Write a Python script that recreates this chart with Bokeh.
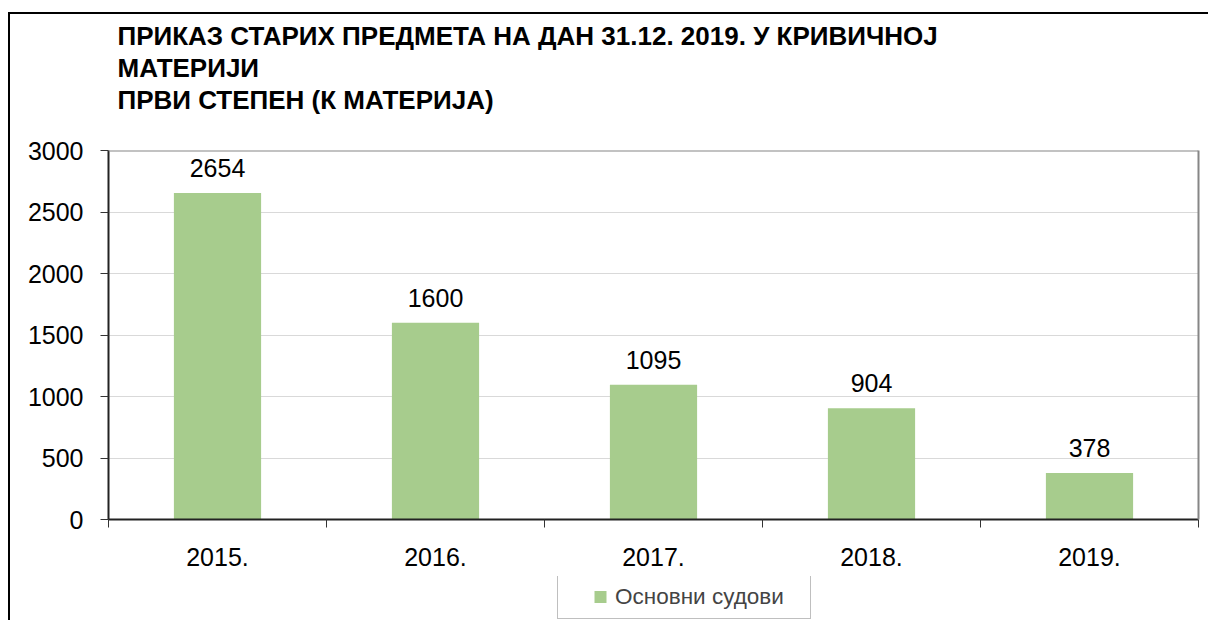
from bokeh.plotting import figure
from bokeh.models import (ColumnDataSource, FixedTicker, Range1d, LabelSet, Legend,
                          LegendItem, Title, Span, LinearAxis)
from bokeh.layouts import column
from bokeh.core.properties import value
from bokeh.embed import file_html
from bokeh.resources import INLINE

years = ["2015.", "2016.", "2017.", "2018.", "2019."]
values = [2654, 1600, 1095, 904, 378]
series_name = "Основни судови"
title_lines = ["ПРИКАЗ СТАРИХ ПРЕДМЕТА НА ДАН 31.12. 2019. У КРИВИЧНОЈ",
               "МАТЕРИЈИ",
               "ПРВИ СТЕПЕН (К МАТЕРИЈА)"]
y_ticks = [0, 500, 1000, 1500, 2000, 2500, 3000]
y_max = 3000

FONT = "Liberation Sans"
BAR = "#A7CC8D"
FRAME_GRAY = "#868686"

n = len(years)
centers = [i + 0.5 for i in range(n)]
bounds = [float(i) for i in range(n + 1)]

src = ColumnDataSource(dict(x=centers, top=values, label=[str(v) for v in values]))

p = figure(width=1198, height=562, output_backend="svg", toolbar_location=None,
           x_range=Range1d(0, n), y_range=Range1d(0, y_max),
           min_border_left=98, min_border_right=10, min_border_top=136,
           min_border_bottom=57)
p.outline_line_color = None

# gridlines
p.xgrid.grid_line_color = None
p.ygrid.grid_line_color = "#d9d9d9"
p.ygrid.grid_line_width = 1

bars = p.vbar(x="x", top="top", width=0.4, source=src, fill_color=BAR, line_color=None)

labels = LabelSet(x="x", y="top", text="label", source=src, text_align="center",
                  text_baseline="alphabetic", y_offset=16, text_font_size=value("25px"),
                  text_font=value(FONT), text_color="black")
p.add_layout(labels)

# gray frame: top edge at the axis maximum, right edge as a bare right axis
p.add_layout(Span(location=y_max, dimension="width", line_color=FRAME_GRAY, line_width=2))
ra = LinearAxis(axis_line_color=FRAME_GRAY, axis_line_width=2,
                major_tick_line_color=None, minor_tick_line_color=None,
                major_label_text_color=None, major_label_text_font_size="1px",
                major_label_standoff=0, major_tick_out=0, major_tick_in=0)
p.add_layout(ra, "right")

# axes
xa = p.xaxis[0]
xa.ticker = FixedTicker(ticks=centers, minor_ticks=bounds)
xa.major_label_overrides = {c: y for c, y in zip(centers, years)}
xa.major_tick_line_color = None
xa.major_tick_in = 0
xa.major_tick_out = 0
xa.minor_tick_in = 0
xa.minor_tick_out = 8
xa.minor_tick_line_color = "#333333"
xa.axis_line_color = "#222222"
xa.axis_line_width = 2
xa.major_label_text_font = FONT
xa.major_label_text_font_size = "25px"
xa.major_label_text_color = "black"
xa.major_label_standoff = 20

ya = p.yaxis[0]
ya.ticker = FixedTicker(ticks=y_ticks)
ya.minor_tick_line_color = None
ya.major_tick_in = 0
ya.major_tick_out = 8
ya.major_tick_line_color = "#333333"
ya.axis_line_color = "#222222"
ya.axis_line_width = 2
ya.major_label_text_font = FONT
ya.major_label_text_font_size = "25px"
ya.major_label_text_color = "black"
ya.major_label_standoff = 17

# titles: spacer nearest the plot, then the three lines (added bottom-up)
p.add_layout(Title(text=" ", text_font=FONT, text_font_size="26px", standoff=4), "above")
for t in reversed(title_lines):
    p.add_layout(Title(text=t, align="left", text_font=FONT, text_font_size="26px",
                       text_font_style="bold", offset=9, standoff=0,
                       text_color="black"), "above")

# legend row as a small figure under the chart (frame aligned with the chart)
lg = figure(width=1198, height=44, output_backend="svg", toolbar_location=None,
            x_range=Range1d(0, 1), y_range=Range1d(0, 1),
            x_axis_location=None, y_axis_location=None,
            min_border_left=98, min_border_right=10, min_border_top=0, min_border_bottom=0)
lg.grid.visible = False
lg.outline_line_color = None
key = lg.scatter(x="x", y="top", source=src, marker="square", size=12,
                 fill_color=BAR, line_color=None, visible=False)
legend = Legend(items=[LegendItem(label=series_name, renderers=[key])],
                location=(449, 1), orientation="horizontal",
                title=" ", title_location="left", title_text_font_size="1px",
                title_standoff=20,
                glyph_width=30, glyph_height=31, label_standoff=0, label_width=189,
                label_text_font=FONT, label_text_font_size="22.5px",
                border_line_color="#808080", border_line_width=1,
                padding=6, margin=0, spacing=0)
lg.add_layout(legend, "center")

layout = column(p, lg, spacing=0)
layout.styles = {"margin-left": "8px", "margin-top": "12px",
                 "border-left": "2px solid black", "border-top": "2px solid black"}

open("out.html", "w").write(file_html(layout, INLINE))
